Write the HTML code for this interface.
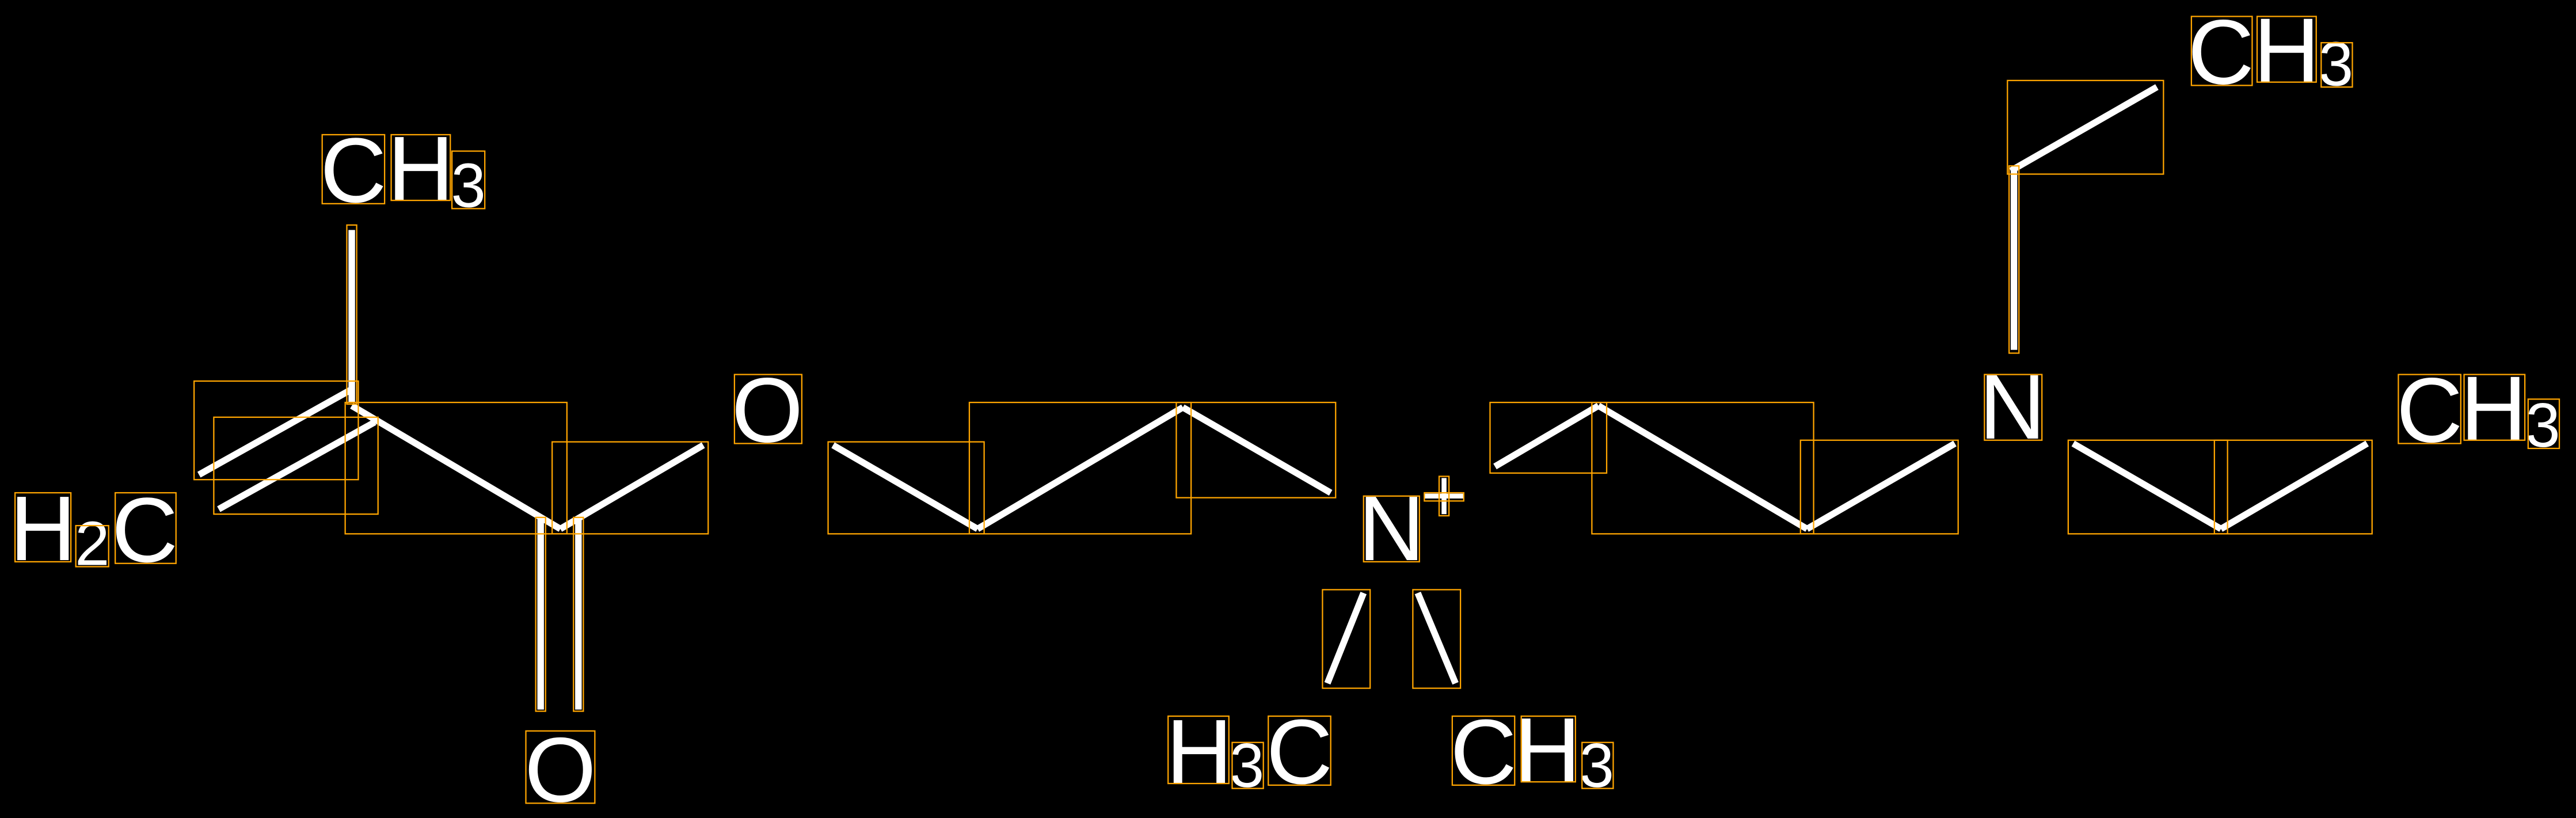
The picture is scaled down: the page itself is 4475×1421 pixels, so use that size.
<!DOCTYPE html>
<html><head><meta charset="utf-8"><style>
html,body{margin:0;padding:0;background:#000;}
svg{display:block;}
text{font-family:"Liberation Sans",sans-serif;fill:#fff;text-anchor:middle;}
.b{fill:none;stroke:#FFA500;stroke-width:0.8;}
.l{stroke:#fff;stroke-width:4;stroke-linecap:butt;}
.t{font-size:56px;}
.s{font-size:38px;}
</style></head><body>
<svg width="4475" height="1421" viewBox="0 0 1568 498" xmlns="http://www.w3.org/2000/svg">
<rect x="0" y="0" width="1568" height="498" fill="#000"/>
<!-- bonds -->
<line class="l" x1="214" y1="140" x2="214" y2="245"/>
<line class="l" x1="121" y1="289" x2="214" y2="237"/>
<line class="l" x1="133" y1="310" x2="228" y2="257"/>
<line class="l" x1="214" y1="247" x2="341" y2="322"/>
<line class="l" x1="341" y1="322" x2="428" y2="271"/>
<line class="l" x1="329" y1="316" x2="329" y2="432"/>
<line class="l" x1="352" y1="316" x2="352" y2="432"/>
<line class="l" x1="507" y1="271" x2="595" y2="322"/>
<line class="l" x1="595" y1="322" x2="720" y2="248"/>
<line class="l" x1="720" y1="248" x2="810" y2="300"/>
<line class="l" x1="830" y1="361" x2="808" y2="416"/>
<line class="l" x1="863" y1="361" x2="886" y2="416"/>
<line class="l" x1="910" y1="284" x2="973" y2="247"/>
<line class="l" x1="973" y1="247" x2="1100" y2="322"/>
<line class="l" x1="1100" y1="322" x2="1190" y2="270"/>
<line class="l" x1="1226" y1="104" x2="1226" y2="213"/>
<line class="l" x1="1224" y1="104" x2="1313" y2="53"/>
<line class="l" x1="1262" y1="270" x2="1352" y2="322"/>
<line class="l" x1="1352" y1="322" x2="1441" y2="270"/>
<!-- plus -->
<line class="l" x1="867" y1="302" x2="891" y2="302" style="stroke-width:3"/>
<line class="l" x1="879" y1="291" x2="879" y2="313" style="stroke-width:3"/>
<!-- bond boxes -->
<rect class="b" x="211" y="137" width="6" height="109"/>
<rect class="b" x="118" y="232" width="100" height="60"/>
<rect class="b" x="130" y="254" width="100" height="59"/>
<rect class="b" x="210" y="245" width="135" height="80"/>
<rect class="b" x="336" y="269" width="95" height="56"/>
<rect class="b" x="326" y="315" width="6" height="118"/>
<rect class="b" x="349" y="315" width="6" height="118"/>
<rect class="b" x="504" y="269" width="95" height="56"/>
<rect class="b" x="590" y="245" width="135" height="80"/>
<rect class="b" x="716" y="245" width="97" height="58"/>
<rect class="b" x="805" y="359" width="29" height="60"/>
<rect class="b" x="860" y="359" width="29" height="60"/>
<rect class="b" x="907" y="245" width="71" height="43"/>
<rect class="b" x="969" y="245" width="135" height="80"/>
<rect class="b" x="1096" y="268" width="96" height="57"/>
<rect class="b" x="1223" y="101" width="6" height="114"/>
<rect class="b" x="1222" y="49" width="95" height="57"/>
<rect class="b" x="1259" y="268" width="97" height="57"/>
<rect class="b" x="1348" y="268" width="96" height="57"/>
<rect class="b" x="867" y="300" width="24" height="5"/>
<rect class="b" x="876" y="290" width="6" height="24"/>
<!-- labels -->
<text class="t" x="215" y="123">C</text><rect class="b" x="196" y="82" width="38" height="42"/>
<text class="t" x="256" y="122">H</text><rect class="b" x="238" y="82" width="36" height="40"/>
<text class="s" x="285" y="126">3</text><rect class="b" x="275" y="92" width="20" height="35"/>
<text class="t" x="26" y="341">H</text><rect class="b" x="9" y="300" width="34" height="42"/>
<text class="s" x="56" y="344">2</text><rect class="b" x="46" y="320" width="20" height="25"/>
<text class="t" x="88" y="342">C</text><rect class="b" x="70" y="300" width="37" height="43"/>
<text class="t" x="341" y="488">O</text><rect class="b" x="320" y="445" width="42" height="44"/>
<text class="t" x="467" y="269">O</text><rect class="b" x="447" y="228" width="41" height="42"/>
<text class="t" x="847" y="341">N</text><rect class="b" x="830" y="302" width="34" height="40"/>
<text class="t" x="730" y="477">H</text><rect class="b" x="711" y="436" width="37" height="41"/>
<text class="s" x="759" y="479">3</text><rect class="b" x="750" y="452" width="19" height="28"/>
<text class="t" x="791" y="477">C</text><rect class="b" x="772" y="436" width="38" height="42"/>
<text class="t" x="903" y="477">C</text><rect class="b" x="884" y="436" width="38" height="42"/>
<text class="t" x="942" y="476">H</text><rect class="b" x="926" y="436" width="33" height="40"/>
<text class="s" x="972" y="479">3</text><rect class="b" x="963" y="452" width="19" height="28"/>
<text class="t" x="1225" y="267">N</text><rect class="b" x="1208" y="228" width="35" height="40"/>
<text class="t" x="1352" y="51">C</text><rect class="b" x="1334" y="10" width="37" height="42"/>
<text class="t" x="1392" y="50">H</text><rect class="b" x="1374" y="10" width="36" height="40"/>
<text class="s" x="1422" y="52">3</text><rect class="b" x="1413" y="26" width="19" height="27"/>
<text class="t" x="1479" y="269">C</text><rect class="b" x="1460" y="228" width="38" height="42"/>
<text class="t" x="1518" y="268">H</text><rect class="b" x="1500" y="228" width="37" height="40"/>
<text class="s" x="1548" y="272">3</text><rect class="b" x="1539" y="243" width="19" height="30"/>
</svg>
</body></html>
